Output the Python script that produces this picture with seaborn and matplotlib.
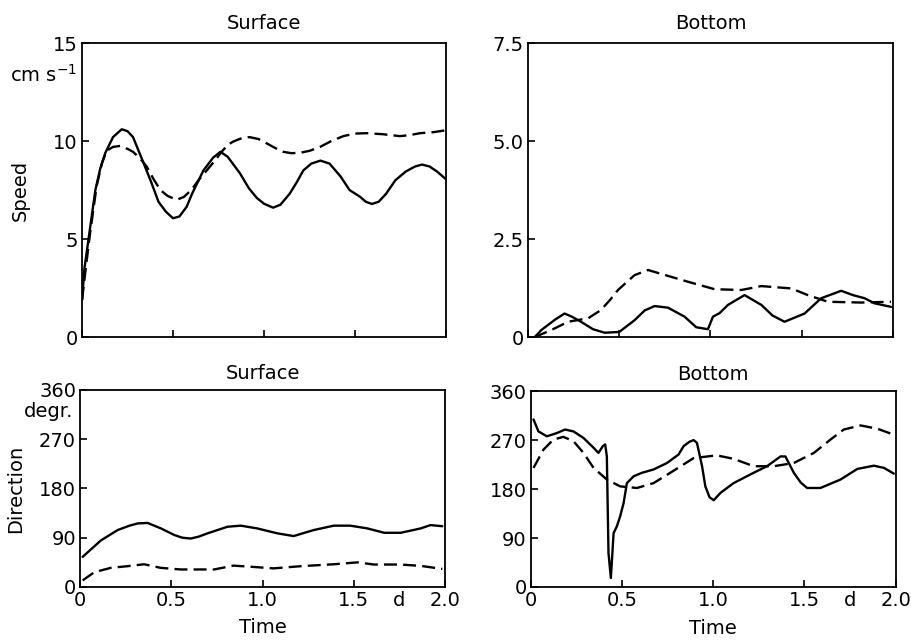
import matplotlib
matplotlib.use("Agg")
import matplotlib.pyplot as plt
import matplotlib.transforms as mtransforms
import seaborn as sns

# ---------------- data ----------------
# Surface speed (cm/s)
surf_speed_solid_t = [0.0, 0.013, 0.037, 0.073, 0.1, 0.128, 0.17, 0.218, 0.25, 0.28, 0.337, 0.38,
                      0.42, 0.46, 0.50, 0.535, 0.575, 0.604, 0.667, 0.72, 0.76, 0.80, 0.868, 0.916,
                      0.96, 1.0, 1.05, 1.09, 1.14, 1.18, 1.216, 1.26, 1.31, 1.36, 1.42, 1.47,
                      1.527, 1.56, 1.593, 1.63, 1.67, 1.722, 1.78, 1.83, 1.868, 1.91, 1.95, 2.0]
surf_speed_solid_v = [1.9, 3.5, 5.1, 7.5, 8.6, 9.4, 10.2, 10.6, 10.5, 10.2, 8.9, 7.9,
                      6.9, 6.4, 6.06, 6.15, 6.65, 7.3, 8.5, 9.15, 9.45, 9.2, 8.35, 7.6,
                      7.1, 6.8, 6.6, 6.75, 7.3, 7.9, 8.5, 8.85, 9.0, 8.85, 8.2, 7.5,
                      7.16, 6.9, 6.79, 6.9, 7.3, 8.0, 8.45, 8.7, 8.8, 8.7, 8.45, 8.05]
surf_speed_dash_t = [0.0, 0.02, 0.044, 0.08, 0.11, 0.135, 0.17, 0.209, 0.25, 0.28, 0.32, 0.355,
                     0.39, 0.43, 0.47, 0.52, 0.56, 0.6, 0.64, 0.685, 0.73, 0.767, 0.80, 0.83,
                     0.87, 0.92, 0.97, 1.015, 1.06, 1.106, 1.15, 1.198, 1.25, 1.308, 1.37, 1.436,
                     1.5, 1.564, 1.65, 1.747, 1.8, 1.857, 1.93, 2.0]
surf_speed_dash_v = [1.9, 3.5, 5.3, 7.7, 8.9, 9.5, 9.7, 9.75, 9.6, 9.45, 9.1, 8.7,
                     8.1, 7.5, 7.2, 7.0, 7.15, 7.5, 8.0, 8.5, 9.0, 9.45, 9.8, 9.97,
                     10.12, 10.2, 10.1, 9.88, 9.65, 9.45, 9.38, 9.4, 9.5, 9.7, 10.0, 10.25,
                     10.38, 10.4, 10.35, 10.25, 10.3, 10.4, 10.45, 10.55]

# Bottom speed (cm/s)
bot_speed_solid_t = [0.037, 0.073, 0.11, 0.15, 0.2, 0.24, 0.29, 0.356, 0.42, 0.5, 0.584, 0.64,
                     0.694, 0.767, 0.858, 0.922, 0.986, 1.014, 1.05, 1.096, 1.187, 1.279, 1.34,
                     1.406, 1.516, 1.607, 1.717, 1.781, 1.845, 1.9, 1.99]
bot_speed_solid_v = [0.0, 0.18, 0.31, 0.45, 0.6, 0.52, 0.39, 0.2, 0.11, 0.13, 0.43, 0.68,
                     0.79, 0.75, 0.52, 0.25, 0.2, 0.52, 0.61, 0.82, 1.07, 0.82, 0.55,
                     0.39, 0.6, 0.99, 1.18, 1.07, 0.99, 0.86, 0.77]
bot_speed_dash_t = [0.037, 0.128, 0.22, 0.33, 0.40, 0.45, 0.493, 0.584, 0.658, 0.767, 0.877,
                    1.023, 1.169, 1.279, 1.443, 1.534, 1.644, 1.826, 1.99]
bot_speed_dash_v = [0.0, 0.18, 0.39, 0.48, 0.69, 0.95, 1.2, 1.58, 1.71, 1.56, 1.41,
                    1.22, 1.2, 1.3, 1.24, 1.07, 0.9, 0.88, 0.9]

# Surface direction (degrees)
surf_dir_solid_t = [0.013, 0.113, 0.205, 0.27, 0.314, 0.369, 0.442, 0.515, 0.56, 0.606, 0.65,
                    0.698, 0.807, 0.88, 0.97, 1.08, 1.17, 1.28, 1.39, 1.48, 1.574, 1.666,
                    1.757, 1.867, 1.92, 1.985]
surf_dir_solid_v = [55, 85, 104, 112, 116, 117, 107, 95, 90, 88.5, 92,
                    98, 110, 112, 107, 98, 93, 104, 112, 112, 107, 99,
                    99, 107, 113, 111]
surf_dir_dash_t = [0.013, 0.077, 0.168, 0.26, 0.35, 0.44, 0.55, 0.734, 0.84, 0.95, 1.06, 1.21,
                   1.39, 1.52, 1.61, 1.757, 1.867, 1.985]
surf_dir_dash_v = [12, 27, 35, 38, 41.5, 35, 32, 32, 39, 36.6, 34, 38,
                   41.5, 45, 41, 41, 38.5, 33]

# Bottom direction (degrees)
bot_dir_solid_t = [0.015, 0.042, 0.088, 0.143, 0.188, 0.234, 0.289, 0.344, 0.371, 0.395, 0.408, 0.417,
                   0.426, 0.439, 0.454, 0.472, 0.49, 0.509, 0.527, 0.564, 0.61, 0.673, 0.747, 0.81,
                   0.838, 0.87, 0.893, 0.911, 0.939, 0.957, 0.98, 1.003, 1.04, 1.112, 1.222, 1.295,
                   1.369, 1.396, 1.442, 1.48, 1.515, 1.588, 1.698, 1.79, 1.881, 1.936, 1.99]
bot_dir_solid_v = [308, 286, 277, 283, 289.5, 286, 274, 256, 246.5, 259, 262, 240,
                   62.5, 16.5, 99, 111.6, 130, 154.5, 191, 203.6, 210, 216, 228, 243.5,
                   259, 267, 270, 265, 222, 185, 165, 159.5, 173, 191, 210, 222,
                   240, 240, 210, 192, 182, 182, 197.5, 217, 223, 219, 208.5]
bot_dir_dash_t = [0.015, 0.07, 0.124, 0.179, 0.234, 0.289, 0.344, 0.417, 0.49, 0.582, 0.673, 0.765,
                  0.893, 1.02, 1.112, 1.222, 1.332, 1.442, 1.552, 1.643, 1.716, 1.808, 1.9, 1.99]
bot_dir_dash_v = [219, 252.7, 271, 276, 268, 246.5, 219, 197.5, 185, 182, 191, 210,
                  237, 242, 235.6, 222, 222, 228, 246.5, 271, 289.5, 297, 291, 280]

x_ticks = [0, 0.5, 1.0, 1.5, 1.75, 2.0]
x_ticklabels = ["0", "0.5", "1.0", "1.5", "d", "2.0"]
surf_speed_ticks = [0, 5, 10, 15]
surf_speed_labels = ["0", "5", "10", "15"]
bot_speed_ticks = [0, 2.5, 5.0, 7.5]
bot_speed_labels = ["0", "2.5", "5.0", "7.5"]
dir_ticks = [0, 90, 180, 270, 360]
dir_labels = ["0", "90", "180", "270", "360"]

# ---------------- style ----------------
FS = 14
sns.set_style("ticks")
plt.rcParams["font.family"] = ["DejaVu Sans"]
plt.rcParams["font.size"] = FS
plt.rcParams["axes.linewidth"] = 1.3
plt.rcParams["xtick.direction"] = "in"
plt.rcParams["ytick.direction"] = "in"
plt.rcParams["xtick.major.size"] = 5
plt.rcParams["ytick.major.size"] = 5
plt.rcParams["xtick.major.width"] = 1.2
plt.rcParams["ytick.major.width"] = 1.2
plt.rcParams["xtick.color"] = "black"
plt.rcParams["ytick.color"] = "black"
plt.rcParams["axes.edgecolor"] = "black"
plt.rcParams["text.color"] = "black"
plt.rcParams["axes.labelcolor"] = "black"
plt.rcParams["lines.solid_joinstyle"] = "round"
plt.rcParams["lines.dash_joinstyle"] = "round"

fig = plt.figure(figsize=(9.12, 6.42), dpi=100)
ax_ss = fig.add_axes([0.090, 0.475, 0.399, 0.458])
ax_bs = fig.add_axes([0.579, 0.475, 0.400, 0.458])
ax_sd = fig.add_axes([0.088, 0.0857, 0.400, 0.307])
ax_bd = fig.add_axes([0.582, 0.0857, 0.400, 0.305])

LW = 1.7
DASH = (5.5, 2.6)


def draw(ax, ts, vs, td, vd):
    sns.lineplot(x=ts, y=vs, ax=ax, color="black", linewidth=LW, sort=False)
    sns.lineplot(x=td, y=vd, ax=ax, color="black", linewidth=LW, sort=False,
                 linestyle=(0, DASH))


draw(ax_ss, surf_speed_solid_t, surf_speed_solid_v, surf_speed_dash_t, surf_speed_dash_v)
draw(ax_bs, bot_speed_solid_t, bot_speed_solid_v, bot_speed_dash_t, bot_speed_dash_v)
draw(ax_sd, surf_dir_solid_t, surf_dir_solid_v, surf_dir_dash_t, surf_dir_dash_v)
draw(ax_bd, bot_dir_solid_t, bot_dir_solid_v, bot_dir_dash_t, bot_dir_dash_v)

for ax in (ax_ss, ax_bs, ax_sd, ax_bd):
    ax.set_xlim(0, 2.0)
    for s in ax.spines.values():
        s.set_visible(True)
        s.set_linewidth(1.3)
    ax.set_xticks(x_ticks)
    ax.tick_params(axis="both", labelsize=FS, pad=3)
    ax.xaxis.get_major_ticks()[4].tick1line.set_visible(False)
    ax.set_xlabel("")
    ax.set_ylabel("")

for ax in (ax_ss, ax_bs):
    ax.set_xticklabels([""] * len(x_ticks))
for ax in (ax_sd, ax_bd):
    ax.set_xticklabels(x_ticklabels)
    ax.set_xlabel("Time", fontsize=FS)
ax_sd.xaxis.set_label_coords(0.5, -0.155)
ax_bd.xaxis.set_label_coords(0.5, -0.165)

ax_ss.set_ylim(0, 15)
ax_ss.set_yticks(surf_speed_ticks)
ax_ss.set_yticklabels(surf_speed_labels)
ax_bs.set_ylim(0, 7.5)
ax_bs.set_yticks(bot_speed_ticks)
ax_bs.set_yticklabels(bot_speed_labels)
for ax in (ax_sd, ax_bd):
    ax.set_ylim(0, 360)
    ax.set_yticks(dir_ticks)
    ax.set_yticklabels(dir_labels)

ax_ss.set_title("Surface", fontsize=FS, pad=10)
ax_bs.set_title("Bottom", fontsize=FS, pad=10)
ax_sd.set_title("Surface", fontsize=FS, pad=8)
ax_bd.set_title("Bottom", fontsize=FS, pad=8)

ax_ss.set_ylabel("Speed", fontsize=FS)
ax_ss.yaxis.set_label_coords(-0.145, 0.5)
ax_sd.set_ylabel("Direction", fontsize=FS)
ax_sd.yaxis.set_label_coords(-0.15, 0.5)

tr = mtransforms.blended_transform_factory(ax_ss.transAxes, ax_ss.transData)
ax_ss.text(-0.014, 13.4, "cm s$^{-1}$", transform=tr, ha="right", va="center", fontsize=FS)
tr2 = mtransforms.blended_transform_factory(ax_sd.transAxes, ax_sd.transData)
ax_sd.text(-0.02, 320, "degr.", transform=tr2, ha="right", va="center", fontsize=FS)

fig.savefig("out.png", dpi=100, facecolor="white")
